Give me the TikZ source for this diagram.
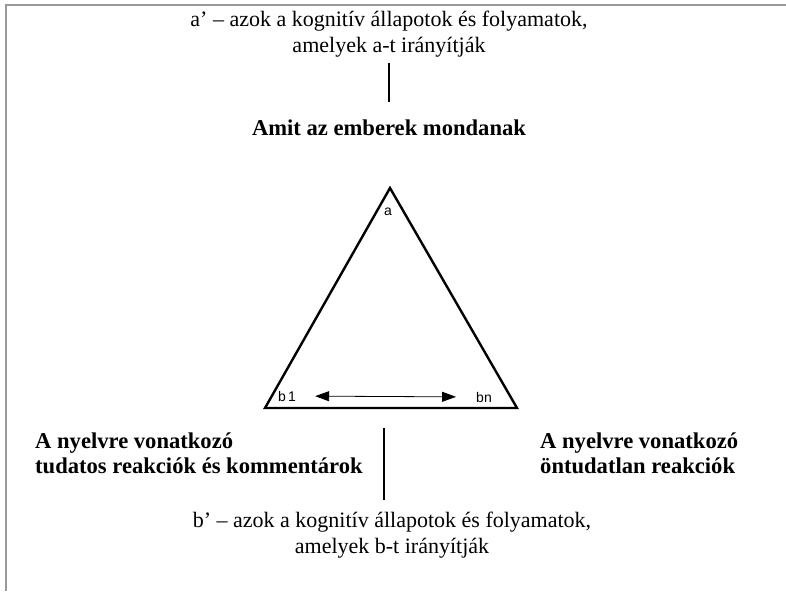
\documentclass[tikz,border=0pt]{standalone}
\usepackage{fontspec}
\setmainfont{Liberation Serif}
\setsansfont{Liberation Sans}
\usetikzlibrary{arrows.meta, positioning}

\begin{document}
\begin{tikzpicture}[
    x=1pt, y=-1pt,
    plain/.style={font=\fontsize{22}{26}\selectfont, align=center, inner sep=2pt},
    boldtext/.style={font=\fontsize{22.6}{25}\selectfont\bfseries, align=left, inner sep=2pt},
    corner/.style={font=\sffamily\fontsize{14}{16}\selectfont, inner sep=1pt},
    edge/.style={line width=2.4pt, line join=miter},
    link/.style={line width=1.4pt},
    arrow/.style={{Triangle[length=14pt,width=10pt]}-{Triangle[length=14pt,width=10pt]}, line width=0.8pt}
  ]
    \useasboundingbox (0,0) rectangle (786,591);
    \draw[gray!80, line width=1.8pt] (6,591) -- (6,5) -- (786,5);

    \node[plain] (atext) at (389,34) {a’ – azok a kognitív állapotok és folyamatok,\\amelyek a-t irányítják};
    \node[boldtext] (amit) at (389,128) {Amit az emberek mondanak};

    % the triangle
    \coordinate (apex) at (390,188);
    \coordinate (left) at (265,408);
    \coordinate (right) at (517,408);
    \coordinate (base) at (384,408);
    \draw[edge] (apex) -- (right) -- (left) -- cycle;
    \node[corner] (a) at (388,212) {a};
    \node[corner] (b1) at (287,396) {b\,1};
    \node[corner] (bn) at (484,397) {bn};
    \draw[arrow, shorten <=18pt, shorten >=19pt] (b1) -- (bn);

    \node[boldtext, anchor=west] (tudatos) at (33,453) {A nyelvre vonatkozó\\tudatos reakciók és kommentárok};
    \node[boldtext, anchor=west] (ontudatlan) at (538,453) {A nyelvre vonatkozó\\öntudatlan reakciók};
    \node[plain] (btext) at (392,535) {b’ – azok a kognitív állapotok és folyamatok,\\amelyek b-t irányítják};

    \draw[link, shorten <=4pt, shorten >=16pt] (atext.south) -- (amit.north);
    \draw[link, shorten <=20pt, shorten >=10pt] (base) -- (base |- btext.north);
\end{tikzpicture}
\end{document}
